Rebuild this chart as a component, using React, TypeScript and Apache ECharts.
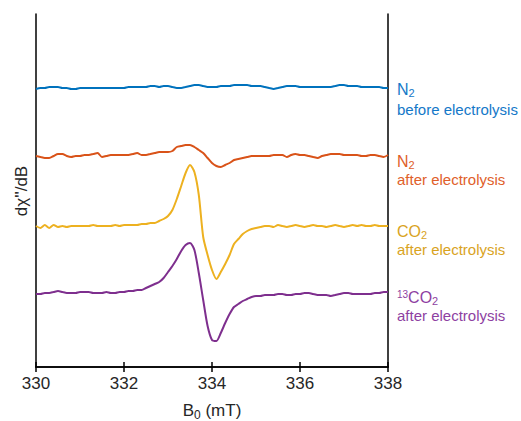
import React, { useEffect, useRef } from "react";
import * as echarts from "echarts";

// Magnetic field axis (mT), sampled every 0.1 mT from 330 to 338
const fieldStart = 330;
const fieldStep = 0.1;
const xTicks = [330, 332, 334, 336, 338];

// dχ''/dB traces (arbitrary units, vertically offset for display)
const n2Before = [
  278, 279, 279, 280, 280, 280, 279, 279, 278, 278,
  279, 279, 279, 279, 279, 279, 279, 279, 279, 279,
  279, 280, 280, 280, 280, 280, 281, 281, 280, 281,
  281, 280, 279, 279, 280, 281, 282, 282, 281, 280,
  280, 280, 281, 281, 281, 282, 282, 282, 282, 281,
  281, 281, 280, 279, 278, 279, 280, 281, 281, 281,
  280, 280, 280, 280, 280, 280, 280, 280, 281, 282,
  282, 281, 281, 281, 280, 280, 280, 280, 280, 279,
  279,
];
const n2After = [
  211, 210, 209, 209, 211, 213, 213, 211, 210, 211,
  211, 212, 212, 213, 214, 210, 211, 212, 212, 212,
  212, 212, 213, 214, 212, 212, 213, 214, 215, 215,
  215, 216, 220, 221, 222, 222, 220, 217, 214, 209,
  204, 201, 200, 202, 204, 207, 208, 209, 210, 211,
  211, 211, 211, 211, 212, 212, 212, 210, 212, 213,
  212, 212, 211, 210, 209, 211, 212, 213, 213, 213,
  212, 212, 212, 212, 211, 211, 212, 212, 211, 210,
  212,
];
const co2After = [
  141, 139, 142, 139, 142, 140, 141, 140, 141, 141,
  141, 141, 141, 142, 141, 141, 141, 141, 142, 141,
  142, 142, 142, 142, 143, 143, 144, 144, 146, 148,
  151, 157, 168, 181, 194, 202, 195, 172, 130, 112,
  97, 88, 95, 103, 112, 123, 128, 133, 136, 138,
  139, 140, 141, 141, 140, 142, 141, 140, 141, 142,
  141, 140, 141, 142, 141, 141, 140, 141, 142, 141,
  140, 141, 142, 141, 142, 141, 141, 142, 141, 141,
  141,
];
const c13o2After = [
  73, 73, 74, 74, 75, 76, 75, 74, 74, 74,
  75, 75, 75, 74, 74, 74, 75, 74, 74, 75,
  75, 76, 76, 77, 77, 79, 81, 83, 85, 89,
  95, 101, 108, 116, 122, 124, 117, 94, 67, 41,
  27, 26, 34, 44, 53, 60, 63, 66, 68, 70,
  71, 71, 72, 72, 72, 73, 73, 72, 72, 73,
  73, 74, 74, 73, 72, 72, 72, 71, 72, 73,
  74, 74, 73, 73, 73, 73, 73, 74, 74, 75,
  75,
];

const seriesNames = ["N2 before electrolysis", "N2 after electrolysis", "CO2 after electrolysis", "13CO2 after electrolysis"];
const lineColors = ["#0072BD", "#D95319", "#EDB120", "#7E2F8E"];
const textColors = ["#1478C8", "#E0602A", "#D9A31E", "#8E3FA2"];

const FONT = "'Liberation Sans', Arial, Helvetica, sans-serif";

function toPairs(values: number[]) {
  return values.map((v, i) => [Math.round((fieldStart + i * fieldStep) * 10) / 10, v]);
}

function label(x: number, y: number, text: string, color: string, rich?: any) {
  return {
    type: "text",
    x,
    y,
    style: {
      text,
      fill: color,
      fontSize: 15,
      fontFamily: FONT,
      verticalAlign: "middle",
      align: "left",
      rich,
    },
  };
}

export default function App() {
  const ref = useRef<HTMLDivElement>(null);
  useEffect(() => {
    if (!ref.current) return;
    const chart = echarts.init(ref.current, undefined, { renderer: "svg" });
    const subRich = (color: string) => ({
      m: { fontSize: 16, fontFamily: FONT, color, lineHeight: 20 },
      s: { fontSize: 11, fontFamily: FONT, color, padding: [7, 0, 0, 0], lineHeight: 20 },
      p: { fontSize: 10, fontFamily: FONT, color, padding: [0, 0, 6, 0], lineHeight: 20 },
    });
    const datasets = [n2Before, n2After, co2After, c13o2After];
    const axisLineStyle = { color: "#000", width: 1.5 };
    chart.setOption({
      animation: false,
      backgroundColor: "#fff",
      grid: { left: 36, right: 133, top: 14, bottom: 54 },
      xAxis: [
        {
          type: "value",
          min: xTicks[0],
          max: xTicks[xTicks.length - 1],
          interval: 2,
          position: "bottom",
          axisLine: { show: true, lineStyle: axisLineStyle },
          axisTick: { show: true, inside: true, length: 5, lineStyle: { color: "#000", width: 1.5 } },
          splitLine: { show: false },
          axisLabel: { fontSize: 17, color: "#262626", margin: 8, fontFamily: FONT },
        },
        {
          type: "value",
          min: xTicks[0],
          max: xTicks[xTicks.length - 1],
          interval: 2,
          position: "top",
          axisLine: { show: true, lineStyle: axisLineStyle },
          axisTick: { show: true, inside: true, length: 5, lineStyle: { color: "#000", width: 1.5 } },
          splitLine: { show: false },
          axisLabel: { show: false },
        },
      ],
      yAxis: [
        {
          type: "value",
          min: 0,
          max: 353,
          position: "left",
          axisLine: { show: true, lineStyle: axisLineStyle },
          axisTick: { show: false },
          axisLabel: { show: false },
          splitLine: { show: false },
        },
        {
          type: "value",
          min: 0,
          max: 353,
          position: "right",
          axisLine: { show: true, lineStyle: axisLineStyle },
          axisTick: { show: false },
          axisLabel: { show: false },
          splitLine: { show: false },
        },
      ],
      series: datasets.map((d, i) => ({
        name: seriesNames[i],
        type: "line",
        data: toPairs(d),
        showSymbol: false,
        symbol: "none",
        smooth: 0.25,
        lineStyle: { color: lineColors[i], width: 2 },
        itemStyle: { color: lineColors[i] },
        xAxisIndex: 0,
        yAxisIndex: 0,
      })),
      graphic: [
        {
          type: "text",
          x: 21,
          y: 191,
          rotation: Math.PI / 2,
          style: {
            text: "dχ''/dB",
            fill: "#262626",
            fontSize: 17,
            fontFamily: FONT,
            align: "center",
            verticalAlign: "middle",
          },
        },
        {
          type: "text",
          x: 212,
          y: 410,
          style: {
            text: "{m|B}{s|0}{m| (mT)}",
            fill: "#262626",
            align: "center",
            verticalAlign: "middle",
            rich: {
              m: { fontSize: 17, fontFamily: FONT, color: "#262626", lineHeight: 22 },
              s: { fontSize: 12, fontFamily: FONT, color: "#262626", padding: [9, 0, 0, 0], lineHeight: 22 },
            },
          },
        },
        label(397, 89, "{m|N}{s|2}", textColors[0], subRich(textColors[0])),
        label(397, 109, "before electrolysis", textColors[0]),
        label(397, 161, "{m|N}{s|2}", textColors[1], subRich(textColors[1])),
        label(397, 179, "after electrolysis", textColors[1]),
        label(397, 231, "{m|CO}{s|2}", textColors[2], subRich(textColors[2])),
        label(397, 249, "after electrolysis", textColors[2]),
        label(397, 297, "{p|13}{m|CO}{s|2}", textColors[3], subRich(textColors[3])),
        label(397, 315, "after electrolysis", textColors[3]),
      ],
    });
    return () => chart.dispose();
  }, []);
  return (
    <div
      ref={ref}
      style={{ position: "fixed", left: 0, top: 0, width: 521, height: 421, background: "#fff" }}
    />
  );
}
